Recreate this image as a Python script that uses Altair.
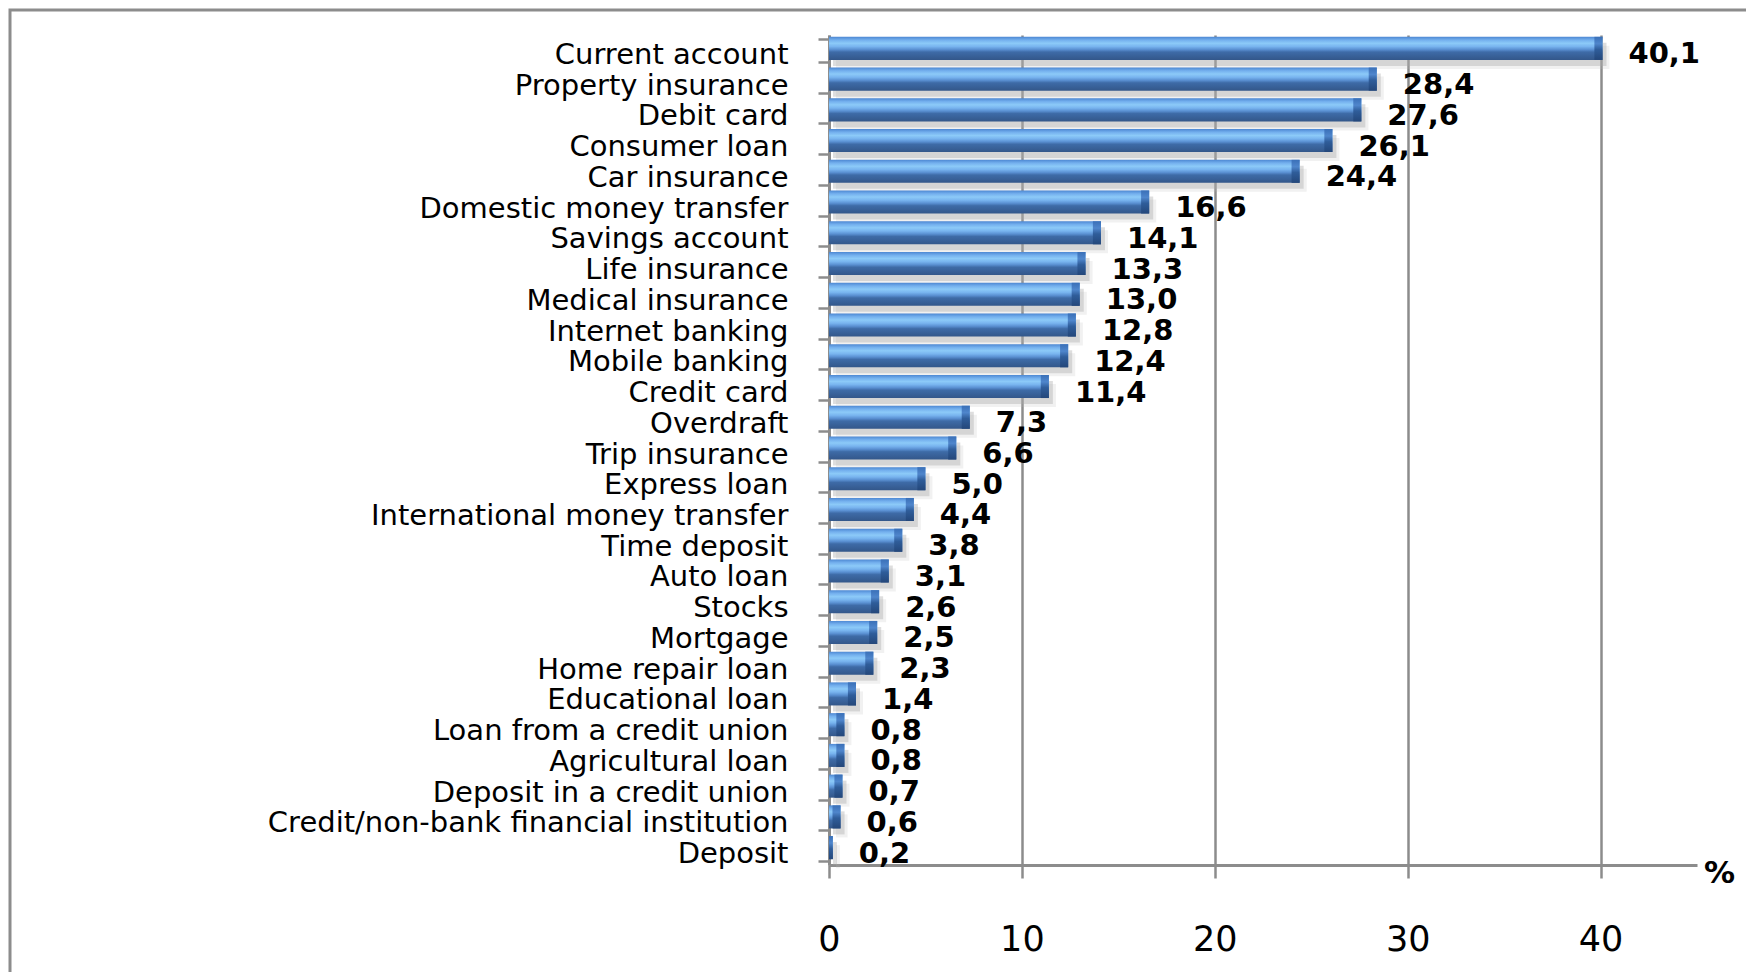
import altair as alt
import pandas as pd

categories = [
    "Current account", "Property insurance", "Debit card", "Consumer loan",
    "Car insurance", "Domestic money transfer", "Savings account",
    "Life insurance", "Medical insurance", "Internet banking",
    "Mobile banking", "Credit card", "Overdraft", "Trip insurance",
    "Express loan", "International money transfer", "Time deposit",
    "Auto loan", "Stocks", "Mortgage", "Home repair loan",
    "Educational loan", "Loan from a credit union", "Agricultural loan",
    "Deposit in a credit union", "Credit/non-bank financial institution",
    "Deposit",
]
values = [40.1, 28.4, 27.6, 26.1, 24.4, 16.6, 14.1, 13.3, 13.0, 12.8,
          12.4, 11.4, 7.3, 6.6, 5.0, 4.4, 3.8, 3.1, 2.6, 2.5, 2.3, 1.4,
          0.8, 0.8, 0.7, 0.6, 0.2]
x_ticks = [0, 10, 20, 30, 40]

df = pd.DataFrame({"cat": categories, "v": values})

W, H = 868, 830
GRAY = "#8c8c8c"

y_enc = alt.Y(
    "cat:N", sort=None,
    scale=alt.Scale(paddingInner=0.25, paddingOuter=0.125),
    axis=alt.Axis(
        title=None, domainColor=GRAY, domainWidth=3, tickColor=GRAY,
        tickWidth=2.5, tickSize=11, tickBand="extent", labelPadding=30,
        labelFont="DejaVu Sans", labelFontSize=29, labelColor="black",
        labelLimit=1000, labelBaseline="middle", labelOffset=4,
    ),
)
x_enc = alt.X(
    "v:Q",
    scale=alt.Scale(domain=[0, 45], nice=False, zero=True),
    axis=alt.Axis(
        values=x_ticks, grid=True, gridColor=GRAY, gridWidth=2.5,
        domainColor=GRAY, domainWidth=3, tickColor=GRAY, tickWidth=2.5,
        tickSize=13, labelFont="DejaVu Sans", labelFontSize=35,
        labelColor="black", labelPadding=44, labelFlush=False, title="%",
        titleFont="DejaVu Sans", titleFontWeight="bold", titleFontSize=31,
        titleColor="black", titleX=W + 22, titleY=8, titleAlign="center",
        titleBaseline="middle", titleAngle=0,
    ),
)

base = alt.Chart(df)

frame = alt.Chart(pd.DataFrame({"a": [0]})).mark_rect(
    fill="transparent", stroke=GRAY, strokeWidth=3
).encode(
    x=alt.value(-819), x2=alt.value(3000),
    y=alt.value(-25), y2=alt.value(3000),
)

shadow2 = base.mark_bar(color="#b8b8b8", opacity=0.2, xOffset=7, yOffset=7).encode(x=x_enc, y=y_enc)
shadow1 = base.mark_bar(color="#a8a8a8", opacity=0.38, xOffset=4, yOffset=4).encode(x=x_enc, y=y_enc)

grad = alt.Gradient(
    gradient="linear", x1=0, x2=0, y1=0, y2=1,
    stops=[
        alt.GradientStop(offset=0, color="#4d88d3"),
        alt.GradientStop(offset=0.14, color="#74b0ee"),
        alt.GradientStop(offset=0.28, color="#8ccaf8"),
        alt.GradientStop(offset=0.42, color="#78b4ef"),
        alt.GradientStop(offset=0.55, color="#5a90d2"),
        alt.GradientStop(offset=0.66, color="#3e6ba7"),
        alt.GradientStop(offset=1, color="#33578a"),
    ],
)
cap_grad = alt.Gradient(
    gradient="linear", x1=0, x2=0, y1=0, y2=1,
    stops=[
        alt.GradientStop(offset=0, color="#3a70b8"),
        alt.GradientStop(offset=0.3, color="#4f86cc"),
        alt.GradientStop(offset=0.55, color="#2f5d9a"),
        alt.GradientStop(offset=1, color="#24477a"),
    ],
)

bars = base.mark_bar(color=grad, yOffset=-2).encode(x=x_enc, y=y_enc)

caps = base.transform_calculate(
    s="max(0, datum.v - 0.42)"
).mark_bar(color=cap_grad, yOffset=-2).encode(
    x=alt.X("s:Q", scale=alt.Scale(domain=[0, 45], nice=False)),
    x2="v:Q",
    y=y_enc,
)

labels = base.transform_calculate(
    lab="replace(format(datum.v, '.1f'), '.', ',')"
).mark_text(
    align="left", baseline="middle", dx=26, dy=4,
    font="DejaVu Sans", fontWeight="bold", fontSize=29, color="black",
).encode(x="v:Q", y=y_enc, text="lab:N")

chart = alt.layer(frame, shadow2, shadow1, bars, caps, labels).properties(
    width=W, height=H,
    autosize=alt.AutoSizeParams(type="none"),
    padding={"left": 821, "top": 27, "right": 49, "bottom": 107},
    background="white",
).configure_view(stroke=None)

chart.save("out.html", embed_options={"renderer": "svg", "actions": False})
